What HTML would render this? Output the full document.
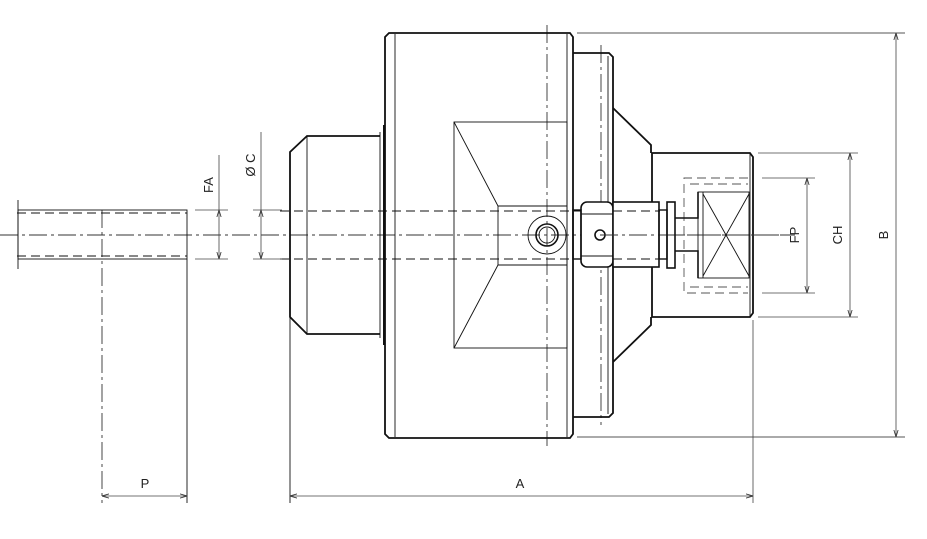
<!DOCTYPE html>
<html><head><meta charset="utf-8"><style>
html,body{margin:0;padding:0;background:#fff;}
svg{display:block;}
text{font-family:"Liberation Sans",sans-serif;fill:#222;}
</style></head><body>
<svg width="927" height="539" viewBox="0 0 927 539" xmlns="http://www.w3.org/2000/svg">
<defs>
<marker id="ar" viewBox="0 0 10 10" refX="10" refY="5" markerWidth="7" markerHeight="7" orient="auto-start-reverse" markerUnits="userSpaceOnUse"><path d="M0,2 L10,5 L0,8" fill="none" stroke="#333" stroke-width="1.2"/></marker>
</defs>
<g fill="none" stroke="#111" stroke-width="0.9">
<line x1="0" y1="235" x2="795" y2="235" stroke-dasharray="18,4,3,4" stroke="#333"/>
<line x1="547" y1="25" x2="547" y2="446" stroke-dasharray="18,4,3,4" stroke="#333"/>
<line x1="601" y1="45" x2="601" y2="425" stroke-dasharray="18,4,3,4" stroke="#333"/>
<line x1="102" y1="210" x2="102" y2="503" stroke-dasharray="18,4,3,4" stroke="#333"/>
<line x1="17" y1="213" x2="187" y2="213" stroke-dasharray="9,5"/>
<line x1="17" y1="256" x2="187" y2="256" stroke-dasharray="9,5"/>
<line x1="280" y1="211" x2="660" y2="211" stroke-dasharray="9,5"/>
<line x1="280" y1="259" x2="660" y2="259" stroke-dasharray="9,5"/>
<rect x="18" y="210" width="169" height="49"/>
<line x1="18" y1="200" x2="18" y2="269"/>
<line x1="187" y1="259" x2="187" y2="503"/>
<path d="M380,136 L307,136 L290,152 L290,317 L307,334 L380,334" stroke-width="1.8"/>
<line x1="307" y1="136" x2="307" y2="334"/>
<line x1="290" y1="317" x2="290" y2="503"/>
<line x1="380" y1="132" x2="380" y2="338"/>
<line x1="384" y1="125" x2="384" y2="345" stroke-width="2"/>
<path d="M389,33 L570,33 L573,37 L573,434 L570,438 L389,438 L385,434 L385,37 Z" stroke-width="1.8"/>
<line x1="395" y1="34" x2="395" y2="437"/>
<line x1="567" y1="34" x2="567" y2="437"/>
<rect x="454" y="122" width="113" height="226"/>
<polyline points="454,122 498,206 567,206"/>
<polyline points="454,348 498,265 567,265"/>
<line x1="498" y1="206" x2="498" y2="265"/>
<circle cx="547" cy="235" r="19"/>
<circle cx="547" cy="235" r="11" stroke-width="1.6"/>
<circle cx="547" cy="235" r="8"/>
<path d="M573,53 L609,53 L613,57 L613,413 L609,417 L573,417" stroke-width="1.8"/>
<line x1="608" y1="56" x2="608" y2="414"/>
<line x1="577" y1="33" x2="905" y2="33" stroke="#555"/>
<line x1="577" y1="437" x2="905" y2="437" stroke="#555"/>
<polyline points="613,108 651,145 651,153" stroke-width="1.8"/>
<polyline points="613,362 651,325 651,317" stroke-width="1.8"/>
<path d="M652,153 L750,153 L753,157 L753,313 L750,317 L652,317 Z" stroke-width="1.8"/>
<line x1="750" y1="153" x2="750" y2="317"/>
<path d="M748,178 L684,178 L684,293 L748,293" stroke-dasharray="9,5" stroke="#555"/>
<line x1="690" y1="184" x2="748" y2="184" stroke-dasharray="9,5" stroke="#555"/>
<line x1="690" y1="287" x2="748" y2="287" stroke-dasharray="9,5" stroke="#555"/>
<rect x="581" y="202" width="32" height="65" rx="6" fill="#fff" stroke-width="1.6"/>
<line x1="581" y1="214" x2="613" y2="214"/>
<line x1="581" y1="256" x2="613" y2="256"/>
<circle cx="600" cy="235" r="5" stroke-width="1.6"/>
<rect x="573" y="210" width="8" height="49" stroke-width="1.4"/>
<rect x="613" y="202" width="46" height="65" fill="#fff" stroke-width="1.6"/>
<line x1="613" y1="211" x2="659" y2="211" stroke-dasharray="9,5"/>
<line x1="613" y1="259" x2="659" y2="259" stroke-dasharray="9,5"/>
<line x1="600" y1="235" x2="700" y2="235" stroke-dasharray="18,4,3,4" stroke="#333"/>
<rect x="667" y="202" width="8" height="66" stroke-width="1.6"/>
<rect x="659" y="210" width="8" height="49" stroke-width="1.4"/>
<polyline points="675,218 698,218 698,192" stroke-width="1.6"/>
<polyline points="675,251 698,251 698,278" stroke-width="1.6"/>
<rect x="698" y="192" width="51" height="86"/>
<line x1="703" y1="192" x2="703" y2="278"/>
<line x1="703" y1="194" x2="749" y2="276"/>
<line x1="749" y1="194" x2="703" y2="276"/>
<line x1="700" y1="235" x2="795" y2="235" stroke-dasharray="18,4,3,4" stroke="#333"/>
</g>
<g fill="none" stroke="#444" stroke-width="0.8">
<line x1="195" y1="210" x2="228" y2="210"/>
<line x1="195" y1="259" x2="228" y2="259"/>
<line x1="219" y1="155" x2="219" y2="210"/>
<line x1="219" y1="210" x2="219" y2="259" marker-start="url(#ar)" marker-end="url(#ar)"/>
<line x1="253" y1="210" x2="282" y2="210"/>
<line x1="253" y1="259" x2="282" y2="259"/>
<line x1="261" y1="132" x2="261" y2="210"/>
<line x1="261" y1="210" x2="261" y2="259" marker-start="url(#ar)" marker-end="url(#ar)"/>
<line x1="762" y1="178" x2="815" y2="178"/>
<line x1="762" y1="293" x2="815" y2="293"/>
<line x1="807" y1="178" x2="807" y2="293" marker-start="url(#ar)" marker-end="url(#ar)"/>
<line x1="758" y1="153" x2="858" y2="153"/>
<line x1="758" y1="317" x2="858" y2="317"/>
<line x1="850" y1="153" x2="850" y2="317" marker-start="url(#ar)" marker-end="url(#ar)"/>
<line x1="896" y1="33" x2="896" y2="437" marker-start="url(#ar)" marker-end="url(#ar)"/>
<line x1="753" y1="320" x2="753" y2="503"/>
<line x1="102" y1="496" x2="187" y2="496" marker-start="url(#ar)" marker-end="url(#ar)"/>
<line x1="290" y1="496" x2="753" y2="496" marker-start="url(#ar)" marker-end="url(#ar)"/>
</g>
<g font-size="13">
<text x="145" y="488" text-anchor="middle">P</text>
<text x="520" y="488" text-anchor="middle">A</text>
<text transform="translate(213,185) rotate(-90)" text-anchor="middle">FA</text>
<text transform="translate(255,165) rotate(-90)" text-anchor="middle">Ø C</text>
<text transform="translate(799,235) rotate(-90)" text-anchor="middle">FP</text>
<text transform="translate(842,235) rotate(-90)" text-anchor="middle">CH</text>
<text transform="translate(888,235) rotate(-90)" text-anchor="middle">B</text>
</g>
</svg>
</body></html>
